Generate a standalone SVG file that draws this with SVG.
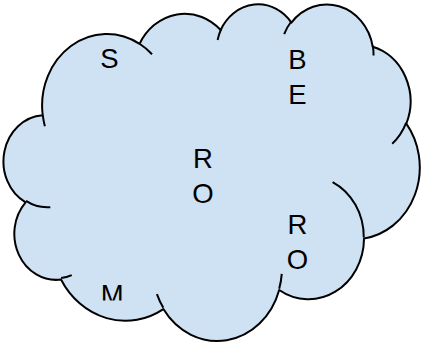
<svg xmlns="http://www.w3.org/2000/svg" width="421" height="347" viewBox="0 0 421 347">
  <defs>
    <style>
      .outline { fill: #cfe2f3; stroke: #000000; stroke-width: 2; stroke-linejoin: round; }
      .tails { fill: none; stroke: #000000; stroke-width: 2; stroke-linecap: butt; }
      .lbl { font-family: "Liberation Sans", Arial, sans-serif; font-size: 27.5px; fill: #000000; text-anchor: middle; }
    </style>
    <clipPath id="clipM">
      <rect x="80" y="270" width="60" height="30.5"/>
    </clipPath>
  </defs>
  <rect width="421" height="347" fill="#ffffff"/>
  <g id="cloud">
    <path class="outline" d="M42.70,115.20
      A64.76,71.56 0 0 1 139.60,43.80
      A51.14,56.59 0 0 1 220.65,30.01
      A41.86,46.29 0 0 1 291.41,22.61
      A46.58,51.36 0 0 1 372.77,46.72
      A51.14,56.64 0 0 1 406.34,123.69
      A64.97,71.80 0 0 1 364.02,238.50
      A55.48,61.26 0 0 1 279.17,289.98
      A64.75,71.76 0 0 1 163.37,309.08
      A74.03,82.10 0 0 1 61.01,279.54
      A41.81,46.08 0 0 1 25.59,202.30
      A41.67,46.29 0 0 1 42.70,115.20 Z"/>
    <path class="tails" d="M50.31,207.14 A41.67,46.29 0 0 1 26.01,200.93
      M71.74,275.06 A41.81,46.08 0 0 1 61.11,278.03
      M163.32,307.69 A64.75,71.76 0 0 1 156.91,294.14
      M281.75,273.91 A64.75,71.76 0 0 1 279.19,288.77
      M332.60,182.04 A55.48,61.26 0 0 1 363.78,237.61
      M406.14,122.86 A51.14,56.64 0 0 1 392.25,143.70
      M372.83,45.55 A46.58,51.36 0 0 1 373.56,55.39
      M284.16,34.07 A46.58,51.36 0 0 1 291.28,21.51
      M217.63,40.05 A41.86,46.29 0 0 1 221.08,29.23
      M139.56,43.73 A64.76,71.56 0 0 1 152.03,54.24
      M44.88,126.25 A64.76,71.56 0 0 1 42.80,115.40"/>
  </g>
  <g id="labels">
    <text class="lbl" x="109.3" y="67.8">S</text>
    <text class="lbl" x="297.5" y="68.5">B</text>
    <text class="lbl" x="297.5" y="103.7">E</text>
    <text class="lbl" x="203" y="168">R</text>
    <text class="lbl" x="203" y="203.2">O</text>
    <text class="lbl" x="297.5" y="233.7">R</text>
    <text class="lbl" x="297.5" y="268.7">O</text>
    <text class="lbl" x="112.2" y="303.5" clip-path="url(#clipM)">M</text>
  </g>
</svg>
